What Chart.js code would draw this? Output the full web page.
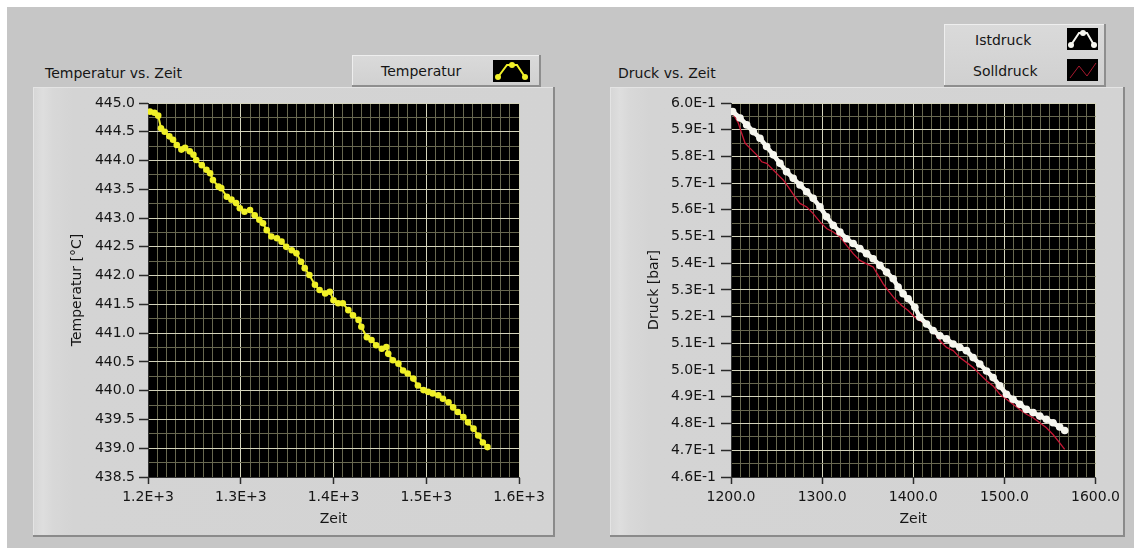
<!DOCTYPE html>
<html><head><meta charset="utf-8">
<script src="https://cdn.jsdelivr.net/npm/chart.js@4.4.0/dist/chart.umd.min.js"></script>
<style>
html,body{margin:0;padding:0;background:#fff;}
body{width:1134px;height:548px;position:relative;overflow:hidden;font-family:"DejaVu Sans",sans-serif;}
#panel{position:absolute;left:7px;top:7px;right:0;bottom:0;background:#c6c6c6;}
.frame{position:absolute;top:87px;height:450px;background:linear-gradient(to right,#d6d6d6 0px,#dedede 10px,#d8d8d8 20px,#d4d4d4 40px,#d3d3d3 100%);box-shadow:inset -2px -2px 0 #8a8a8a, inset 1px 1px 0 #e4e4e4;}
.frame canvas{position:absolute;left:0;top:0;}
.title{position:absolute;font-size:14px;line-height:16px;color:#151515;white-space:nowrap;}
.legend{position:absolute;background:linear-gradient(#dadada,#d0d0d0);box-shadow:inset -2px -2px 0 #8e8e8e, inset 1px 1px 0 #eeeeee;}
.legend .lbl{position:absolute;font-size:14px;line-height:16px;color:#151515;white-space:nowrap;}
.legend svg{position:absolute;}
</style>
</head>
<body>
<div id="panel"></div>
<div class="title" style="left:45px;top:65px;">Temperatur vs. Zeit</div>
<div class="title" style="left:618px;top:65px;">Druck vs. Zeit</div>

<div class="legend" style="left:352px;top:55px;width:189px;height:32px;">
  <div class="lbl" style="left:29px;top:8px;">Temperatur</div>
  <svg style="left:141px;top:5px;" width="37" height="22" viewBox="0 0 37 22">
    <rect x="0" y="0" width="37" height="22" fill="#000"/>
    <polyline points="5,17 14,5 24,5 32,17" fill="none" stroke="#f0f028" stroke-width="2"/>
    <circle cx="5" cy="17" r="3" fill="#f0f028"/><circle cx="19" cy="5" r="3" fill="#f0f028"/><circle cx="32" cy="17" r="3" fill="#f0f028"/>
  </svg>
</div>

<div class="legend" style="left:944px;top:24px;width:162px;height:63px;">
  <div class="lbl" style="left:31px;top:8px;">Istdruck</div>
  <svg style="left:123px;top:4px;" width="31" height="22" viewBox="0 0 31 22">
    <rect x="0" y="0" width="31" height="22" fill="#000"/>
    <polyline points="4,17 12,5 20,5 27,17" fill="none" stroke="#f6f6f0" stroke-width="2"/>
    <circle cx="4" cy="17" r="3" fill="#f6f6f0"/><circle cx="16" cy="5" r="3" fill="#f6f6f0"/><circle cx="27" cy="17" r="3" fill="#f6f6f0"/>
  </svg>
  <div class="lbl" style="left:29px;top:39px;">Solldruck</div>
  <svg style="left:123px;top:35px;" width="31" height="22" viewBox="0 0 31 22">
    <rect x="0" y="0" width="31" height="22" fill="#000"/>
    <polyline points="3,19 12,7 20,17 29,4" fill="none" stroke="#a8182e" stroke-width="1"/>
  </svg>
</div>

<div class="frame" style="left:33px;width:522px;"><canvas id="c1" width="522" height="450"></canvas></div>
<div class="frame" style="left:610px;width:515px;"><canvas id="c2" width="515" height="450"></canvas></div>

<script>
// ---- data ----
const tempTime = [1202,1207,1211,1214,1218,1223,1227,1231,1236,1240,1245,1249,1252,1258,1263,1267,1270,1276,1279,1285,1290,1295,1299,1304,1310,1315,1320,1324,1328,1333,1339,1344,1349,1355,1360,1365,1369,1374,1380,1385,1391,1396,1400,1405,1410,1416,1421,1427,1430,1436,1441,1446,1452,1457,1459,1464,1470,1475,1480,1486,1491,1497,1502,1507,1513,1518,1524,1529,1534,1540,1545,1551,1556,1561,1566];
const tempValues = [444.85,444.83,444.78,444.56,444.50,444.42,444.36,444.27,444.19,444.22,444.16,444.10,444.01,443.92,443.84,443.78,443.66,443.55,443.52,443.37,443.32,443.26,443.17,443.11,443.14,443.05,442.97,442.91,442.79,442.68,442.65,442.59,442.50,442.44,442.39,442.24,442.13,442.01,441.84,441.75,441.69,441.72,441.57,441.52,441.52,441.40,441.31,441.23,441.11,440.93,440.88,440.79,440.73,440.76,440.64,440.53,440.47,440.35,440.30,440.21,440.09,440.01,439.98,439.95,439.92,439.86,439.80,439.71,439.63,439.54,439.45,439.34,439.22,439.10,439.02];

const istTime = [1201.8,1209.9,1217.2,1224.5,1231.8,1239.1,1246.4,1253.7,1261.0,1268.3,1275.7,1283.0,1290.2,1297.6,1304.9,1312.2,1319.5,1326.8,1334.1,1341.4,1348.8,1356.0,1363.4,1370.7,1378.0,1383.4,1388.9,1394.4,1401.8,1407.2,1414.6,1421.8,1429.2,1436.5,1443.8,1451.1,1458.4,1465.7,1473.0,1480.4,1487.6,1495.0,1502.3,1509.5,1516.9,1524.2,1531.5,1538.8,1546.1,1553.4,1560.7,1566.2];
const istValues = [0.5968,0.5944,0.5918,0.5893,0.5868,0.5837,0.5806,0.5774,0.5743,0.5718,0.5693,0.5668,0.5643,0.5611,0.5574,0.5542,0.5517,0.5492,0.5474,0.5455,0.5436,0.5417,0.5392,0.5367,0.5342,0.5311,0.5286,0.5267,0.5235,0.5198,0.5173,0.5148,0.5129,0.5117,0.5098,0.5085,0.5073,0.5047,0.5023,0.4997,0.4972,0.4941,0.4910,0.4891,0.4872,0.4853,0.4841,0.4828,0.4816,0.4803,0.4787,0.4774];

const sollTime = [1201.8,1208.0,1211.7,1215.4,1220.8,1228.2,1233.7,1239.1,1246.4,1251.9,1257.3,1262.8,1270.2,1275.7,1283.0,1290.2,1297.6,1304.9,1312.2,1319.5,1326.8,1334.1,1341.4,1348.8,1356.0,1361.5,1367.0,1372.5,1379.8,1387.2,1394.4,1401.8,1407.2,1414.6,1421.8,1429.2,1436.5,1443.8,1451.1,1458.4,1465.7,1473.0,1480.4,1487.6,1495.0,1502.3,1509.5,1516.9,1524.2,1531.5,1538.8,1546.1,1553.4,1560.7,1566.2];
const sollValues = [0.5962,0.5925,0.5887,0.5850,0.5831,0.5806,0.5780,0.5774,0.5749,0.5730,0.5712,0.5686,0.5649,0.5624,0.5611,0.5586,0.5555,0.5530,0.5517,0.5499,0.5467,0.5436,0.5411,0.5398,0.5386,0.5355,0.5323,0.5298,0.5267,0.5242,0.5223,0.5198,0.5185,0.5173,0.5148,0.5110,0.5085,0.5073,0.5047,0.5029,0.5010,0.4985,0.4960,0.4941,0.4910,0.4891,0.4872,0.4853,0.4835,0.4822,0.4803,0.4784,0.4759,0.4728,0.4703];

const tempYTicks = [438.5,439.0,439.5,440.0,440.5,441.0,441.5,442.0,442.5,443.0,443.5,444.0,444.5,445.0];
const tempXTicks = [1200,1300,1400,1500,1600];
const pressYTicks = [0.46,0.47,0.48,0.49,0.50,0.51,0.52,0.53,0.54,0.55,0.56,0.57,0.58,0.59,0.60];
const pressXTicks = [1200,1300,1400,1500,1600];

// ---- styling ----
const FONT = {family:'"DejaVu Sans", sans-serif', size:14};
const TXT = '#151515';
const MAJOR = 'rgb(212,212,188)';
const MINOR = 'rgb(104,104,80)';

function buildTicks(majors, sub){
  const out = [];
  for (let i = 0; i < majors.length; i++){
    out.push({value: majors[i], isMajor: true});
    if (i < majors.length - 1){
      const step = (majors[i+1] - majors[i]) / sub;
      for (let k = 1; k < sub; k++) out.push({value: majors[i] + k*step, isMajor: false});
    }
  }
  return out;
}

function axis(o){
  return {
    type:'linear',
    position:o.pos,
    min:o.majors[0], max:o.majors[o.majors.length-1],
    afterBuildTicks: s => { s.ticks = buildTicks(o.majors, o.sub); },
    afterFit: s => { if (o.width) s.width = o.width; if (o.height) s.height = o.height; },
    ticks:{autoSkip:false, maxRotation:0, minRotation:0, color:TXT, font:FONT, padding:o.pad,
      callback:(v,i,t) => (t[i] && t[i].isMajor) ? o.fmt(v) : ''},
    grid:{color: c => (c.tick && c.tick.isMajor) ? MAJOR : MINOR,
      tickColor: c => (c.tick && c.tick.isMajor) ? '#2a2a2a' : 'rgba(0,0,0,0)',
      tickLength:o.tl, lineWidth:1, tickWidth:1.5},
    border:{display:true, color:'#333', width:1},
    title:{display:true, text:o.title, color:TXT, font:FONT, padding:{top:4, bottom:4}}
  };
}

const plotBg = {id:'plotBg', beforeDraw(chart){
  const {ctx, chartArea:a} = chart;
  ctx.save(); ctx.fillStyle = '#000';
  ctx.fillRect(a.left, a.top, a.right - a.left, a.bottom - a.top);
  ctx.restore();
}};

const pts = (xs, ys) => xs.map((x,i) => ({x:x, y:ys[i]}));

const common = {
  responsive:false, animation:false, devicePixelRatio:1,
  events:[],
  plugins:{legend:{display:false}, tooltip:{enabled:false}},
};

new Chart(document.getElementById('c1'), {
  type:'line',
  data:{datasets:[{
    label:'Temperatur', data:pts(tempTime, tempValues),
    borderColor:'rgb(240,240,40)', borderWidth:2,
    pointRadius:3.3, pointBackgroundColor:'rgb(240,240,40)', pointBorderWidth:0, tension:0
  }]},
  options:Object.assign({}, common, {
    layout:{padding:{left:32, right:36, top:16, bottom:5}},
    scales:{
      x: axis({pos:'bottom', majors:tempXTicks, sub:10, fmt:v => v.toExponential(1).replace('e','E'), pad:5, tl:7, height:55, title:'Zeit'}),
      y: axis({pos:'left', majors:tempYTicks, sub:2, fmt:v => v.toFixed(1), pad:4, tl:9, width:83, title:'Temperatur [°C]'})
    }
  }),
  plugins:[plotBg]
});

new Chart(document.getElementById('c2'), {
  type:'line',
  data:{datasets:[{
    label:'Istdruck', data:pts(istTime, istValues),
    borderColor:'rgb(246,246,238)', borderWidth:4.5,
    pointRadius:3.8, pointBackgroundColor:'rgb(246,246,238)', pointBorderWidth:0, tension:0
  },{
    label:'Solldruck', data:pts(sollTime, sollValues),
    borderColor:'rgb(200,22,52)', borderWidth:1.3, pointRadius:0, tension:0
  }]},
  options:Object.assign({}, common, {
    layout:{padding:{left:32, right:29, top:16, bottom:5}},
    scales:{
      x: axis({pos:'bottom', majors:pressXTicks, sub:10, fmt:v => v.toFixed(1), pad:5, tl:7, height:55, title:'Zeit'}),
      y: axis({pos:'left', majors:pressYTicks, sub:2, fmt:v => v.toExponential(1).replace('e','E'), pad:5, tl:10, width:89, title:'Druck [bar]'})
    }
  }),
  plugins:[plotBg]
});
</script>
</body></html>
